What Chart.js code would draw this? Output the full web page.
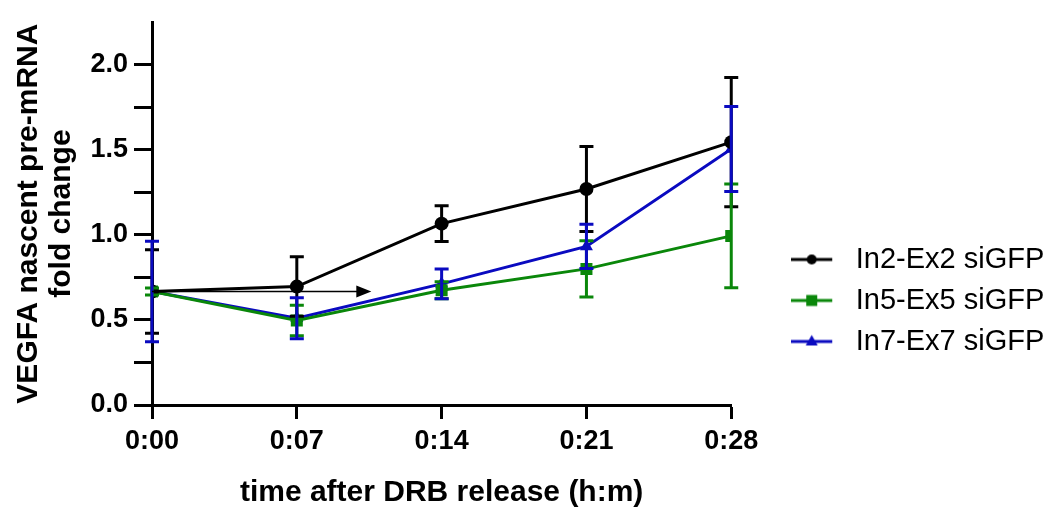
<!DOCTYPE html>
<html lang="en">
<head>
  <meta charset="UTF-8" />
  <title>VEGFA nascent pre-mRNA</title>
  <script src="https://cdn.jsdelivr.net/npm/chart.js"></script>
  <style>
    html, body { margin: 0; padding: 0; background: #ffffff; }
    #wrap { width: 1059px; height: 509px; }
  </style>
</head>
<body>
  <div id="wrap"><canvas id="foldChart" width="1059" height="509"></canvas></div>

  <script>
    // time points (minutes after DRB release)
    const timePoints = [0, 7, 14, 21, 28];
    const seriesNames = ['In2-Ex2 siGFP', 'In5-Ex5 siGFP', 'In7-Ex7 siGFP'];

    // means and error (+/-)
    const in2Mean = [0.667, 0.696, 1.066, 1.27, 1.545];
    const in2Err  = [0.245, 0.175, 0.105, 0.25, 0.38];
    const in5Mean = [0.667, 0.497, 0.675, 0.80, 0.994];
    const in5Err  = [0.02, 0.09, 0.05, 0.165, 0.305];
    const in7Mean = [0.667, 0.51, 0.712, 0.932, 1.505];
    const in7Err  = [0.295, 0.12, 0.088, 0.13, 0.25];

    const yTickValues = [0, 0.5, 1.0, 1.5, 2.0];

    // horizontal arrow annotation (in data units)
    const arrowFrom = { x: 0, y: 0.667 };
    const arrowTo = { x: 10.6, y: 0.667 };

    const colors = ['#000000', '#0a870a', '#0a0ac0'];
    const markers = ['circle', 'rect', 'triangle'];
    const markerRadius = [7, 8.5, 7.5];
    const errors = [in2Err, in5Err, in7Err];
    const FONT = "'Liberation Sans', Arial, sans-serif";

    function toPoints(means) {
      return timePoints.map((t, i) => ({ x: t, y: means[i] }));
    }

    // small canvas used as legend sample: line with marker in the middle
    function legendSample(i) {
      const c = document.createElement('canvas');
      c.width = 50; c.height = 18;
      const g = c.getContext('2d');
      g.strokeStyle = colors[i];
      g.fillStyle = colors[i];
      g.lineWidth = 3;
      g.beginPath(); g.moveTo(0, 9); g.lineTo(41, 9); g.stroke();
      g.beginPath();
      if (markers[i] === 'circle') g.arc(20.5, 9, 5, 0, Math.PI * 2);
      else if (markers[i] === 'rect') g.rect(15, 3.5, 11, 11);
      else { g.moveTo(20.5, 2.5); g.lineTo(26.5, 13); g.lineTo(14.5, 13); g.closePath(); }
      g.fill();
      return c;
    }

    // error bars with caps, drawn through the scales
    const errorBars = {
      id: 'errorBars',
      afterDatasetsDraw(chart) {
        const { ctx, scales: { x, y } } = chart;
        chart.data.datasets.forEach((ds, di) => {
          ctx.save();
          ctx.strokeStyle = ds.borderColor;
          ctx.lineWidth = 3;
          ds.data.forEach((p, i) => {
            const px = x.getPixelForValue(p.x);
            const top = y.getPixelForValue(p.y + errors[di][i]);
            const bot = y.getPixelForValue(p.y - errors[di][i]);
            ctx.beginPath();
            ctx.moveTo(px, top); ctx.lineTo(px, bot);
            ctx.moveTo(px - 7, top); ctx.lineTo(px + 7, top);
            ctx.moveTo(px - 7, bot); ctx.lineTo(px + 7, bot);
            ctx.stroke();
          });
          ctx.restore();
        });
      }
    };

    const arrowPlugin = {
      id: 'arrow',
      afterDatasetsDraw(chart) {
        const { ctx, scales: { x, y } } = chart;
        const x0 = x.getPixelForValue(arrowFrom.x), y0 = y.getPixelForValue(arrowFrom.y);
        const x1 = x.getPixelForValue(arrowTo.x), y1 = y.getPixelForValue(arrowTo.y);
        ctx.save();
        ctx.strokeStyle = '#000'; ctx.fillStyle = '#000'; ctx.lineWidth = 1.5;
        ctx.beginPath(); ctx.moveTo(x0, y0); ctx.lineTo(x1 - 12, y1); ctx.stroke();
        ctx.beginPath();
        ctx.moveTo(x1, y1); ctx.lineTo(x1 - 15, y1 - 6); ctx.lineTo(x1 - 15, y1 + 6);
        ctx.closePath(); ctx.fill();
        ctx.restore();
      }
    };

    // move the legend next to the plot like the original figure
    const legendPlace = {
      id: 'legendPlace',
      afterLayout(chart) {
        const lg = chart.legend;
        if (!lg) return;
        const h = lg.bottom - lg.top;
        lg.left = chart.chartArea.right + 48;
        lg.right = chart.width;
        lg.width = lg.right - lg.left;
        lg.top = 233;
        lg.bottom = lg.top + h;
      }
    };

    const ctx = document.getElementById('foldChart').getContext('2d');
    const chart = new Chart(ctx, {
      type: 'line',
      data: {
        datasets: seriesNames.map((name, i) => ({
          label: name,
          data: toPoints([in2Mean, in5Mean, in7Mean][i]),
          borderColor: colors[i],
          backgroundColor: colors[i],
          borderWidth: 3,
          pointStyle: markers[i],
          pointRadius: markerRadius[i],
          pointBorderWidth: 0,
          fill: false,
          tension: 0
        }))
      },
      options: {
        responsive: false,
        animation: false,
        layout: { padding: { top: 18, right: 84, left: 0, bottom: 0 } },
        plugins: {
          tooltip: { enabled: false },
          legend: {
            position: 'right',
            align: 'start',
            labels: {
              usePointStyle: true,
              pointStyleWidth: 50,
              padding: 12,
              color: '#000',
              font: { family: FONT, size: 29 },
              generateLabels(chart) {
                const base = Chart.defaults.plugins.legend.labels.generateLabels(chart);
                return base.map(l => Object.assign(l, { pointStyle: legendSample(l.datasetIndex) }));
              }
            }
          }
        },
        scales: {
          x: {
            type: 'linear',
            min: 0,
            max: 28,
            afterFit(s) { s.height = 104; },
            afterBuildTicks(s) { s.ticks = timePoints.map(v => ({ value: v })); },
            border: { color: '#000', width: 3 },
            grid: { drawOnChartArea: false, tickLength: 14, tickWidth: 3, tickColor: '#000' },
            ticks: {
              color: '#000',
              padding: 6,
              maxRotation: 0,
              font: { family: FONT, size: 27, weight: 'bold' },
              callback: v => '0:' + String(v).padStart(2, '0')
            },
            title: {
              display: true,
              text: 'time after DRB release (h:m)',
              color: '#000',
              padding: { top: 4, bottom: 1 },
              font: { family: FONT, size: 30, weight: 'bold', lineHeight: 1.0 }
            }
          },
          y: {
            min: 0,
            max: 2.25,
            afterFit(s) { s.width = 152; },
            afterBuildTicks(s) {
              const t = [];
              for (let v = 0; v <= 2.0001; v += 0.25) t.push({ value: Math.round(v * 100) / 100 });
              s.ticks = t;
            },
            border: { color: '#000', width: 3 },
            grid: { drawOnChartArea: false, tickLength: 18, tickWidth: 3, tickColor: '#000' },
            ticks: {
              color: '#000',
              padding: 6,
              font: { family: FONT, size: 27, weight: 'bold' },
              callback: v => yTickValues.includes(v) ? v.toFixed(1) : ''
            },
            title: {
              display: true,
              text: ['VEGFA nascent pre-mRNA', 'fold change'],
              color: '#000',
              padding: { top: 12, bottom: 0 },
              font: { family: FONT, size: 30, weight: 'bold', lineHeight: 1.1 }
            }
          }
        }
      },
      plugins: [errorBars, arrowPlugin, legendPlace]
    });
  </script>
</body>
</html>
